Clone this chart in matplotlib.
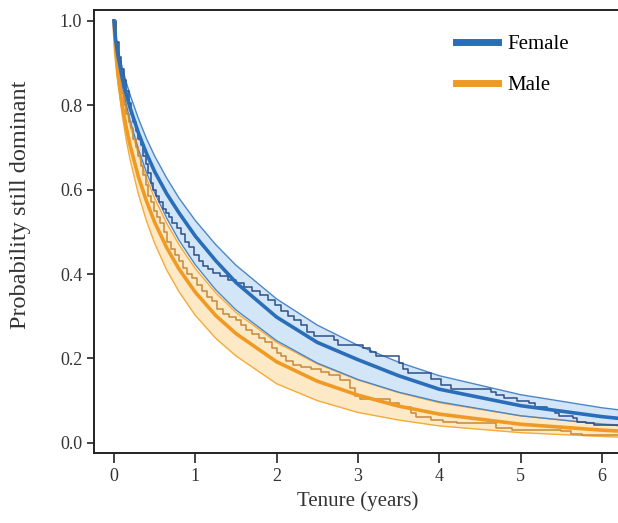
import matplotlib
matplotlib.use("Agg")
import matplotlib.pyplot as plt

plt.rcParams['font.family'] = ['Liberation Serif', 'DejaVu Serif']

# fitted survival curves
t_fit = [0, 0.02, 0.05, 0.1, 0.15, 0.2, 0.3, 0.4, 0.5, 0.65, 0.8, 1.0, 1.25,
         1.5, 2.0, 2.5, 3.0, 3.5, 4.0, 5.0, 6.0, 6.3]
female_fit = [1.0, 0.957, 0.918, 0.868, 0.828, 0.793, 0.735, 0.686, 0.643, 0.590,
              0.545, 0.490, 0.432, 0.380, 0.298, 0.238, 0.197, 0.159, 0.127,
              0.088, 0.062, 0.056]
female_hi = [1.0, 0.966, 0.934, 0.891, 0.855, 0.824, 0.769, 0.721, 0.680, 0.627,
             0.580, 0.527, 0.470, 0.421, 0.341, 0.279, 0.231, 0.191, 0.159,
             0.114, 0.083, 0.076]
female_lo = [1.0, 0.950, 0.905, 0.849, 0.803, 0.763, 0.696, 0.641, 0.593, 0.532,
             0.480, 0.422, 0.363, 0.315, 0.242, 0.189, 0.150, 0.120, 0.097,
             0.064, 0.044, 0.039]
male_fit = [1.0, 0.928, 0.871, 0.802, 0.749, 0.704, 0.631, 0.573, 0.523, 0.462,
            0.412, 0.357, 0.302, 0.259, 0.192, 0.146, 0.113, 0.087, 0.068,
            0.044, 0.030, 0.027]
male_hi = [1.0, 0.944, 0.897, 0.838, 0.791, 0.751, 0.684, 0.628, 0.580, 0.520,
           0.470, 0.413, 0.356, 0.309, 0.238, 0.187, 0.149, 0.119, 0.095,
           0.064, 0.045, 0.041]
male_lo = [1.0, 0.920, 0.855, 0.779, 0.719, 0.670, 0.590, 0.526, 0.473, 0.409,
           0.358, 0.302, 0.248, 0.206, 0.140, 0.100, 0.072, 0.054, 0.040,
           0.024, 0.015, 0.013]

# Kaplan-Meier steps
female_km_t = [0, 0.03, 0.06, 0.09, 0.12, 0.15, 0.18, 0.21, 0.24, 0.27, 0.30, 0.33,
               0.36, 0.39, 0.42, 0.45, 0.48, 0.52, 0.56, 0.60, 0.64, 0.68, 0.72,
               0.77, 0.82, 0.87, 0.92, 0.98, 1.04, 1.10, 1.16, 1.22, 1.30, 1.40,
               1.50, 1.60, 1.70, 1.80, 1.90, 1.98, 2.06, 2.14, 2.22, 2.30, 2.38,
               2.46, 2.70, 2.76, 3.06, 3.15, 3.22, 3.50, 3.56, 3.62, 3.90, 4.02,
               4.15, 4.64, 4.70, 4.80, 4.95, 5.10, 5.18, 5.32, 5.42, 5.47, 5.64,
               5.70, 5.80, 5.90, 6.3]
female_km = [1.0, 0.95, 0.915, 0.885, 0.86, 0.835, 0.805, 0.78, 0.76, 0.74, 0.72, 0.705,
             0.68, 0.66, 0.64, 0.615, 0.60, 0.585, 0.57, 0.555, 0.545, 0.535, 0.52,
             0.51, 0.495, 0.475, 0.465, 0.445, 0.43, 0.42, 0.412, 0.403, 0.395,
             0.386, 0.378, 0.37, 0.36, 0.35, 0.338, 0.326, 0.313, 0.30, 0.29,
             0.28, 0.262, 0.252, 0.244, 0.232, 0.224, 0.215, 0.205, 0.19, 0.175,
             0.165, 0.152, 0.138, 0.128, 0.12, 0.114, 0.105, 0.10, 0.095, 0.085,
             0.078, 0.07, 0.063, 0.058, 0.05, 0.046, 0.043, 0.043]
male_km_t = [0, 0.03, 0.05, 0.07, 0.09, 0.12, 0.15, 0.18, 0.21, 0.24, 0.27, 0.30,
             0.33, 0.36, 0.39, 0.42, 0.45, 0.49, 0.53, 0.57, 0.61, 0.65, 0.70,
             0.75, 0.80, 0.85, 0.90, 0.96, 1.02, 1.08, 1.14, 1.20, 1.27, 1.34,
             1.42, 1.50, 1.56, 1.62, 1.70, 1.78, 1.86, 1.94, 2.00, 2.06, 2.12,
             2.20, 2.30, 2.42, 2.55, 2.65, 2.78, 2.90, 2.96, 3.02, 3.40, 3.50,
             3.65, 3.72, 3.90, 4.05, 4.22, 4.70, 4.90, 5.50, 5.62, 5.75, 6.3]
male_km = [1.0, 0.95, 0.91, 0.87, 0.83, 0.80, 0.78, 0.76, 0.745, 0.72, 0.70, 0.68,
           0.655, 0.635, 0.61, 0.585, 0.57, 0.55, 0.535, 0.52, 0.50, 0.475, 0.46,
           0.445, 0.43, 0.415, 0.40, 0.39, 0.375, 0.36, 0.345, 0.335, 0.318,
           0.305, 0.298, 0.29, 0.28, 0.268, 0.258, 0.248, 0.238, 0.224, 0.212,
           0.205, 0.195, 0.185, 0.18, 0.174, 0.168, 0.16, 0.15, 0.13, 0.11,
           0.103, 0.095, 0.085, 0.07, 0.062, 0.055, 0.05, 0.047, 0.035, 0.03,
           0.028, 0.022, 0.018, 0.018]

x_ticks = [0, 1, 2, 3, 4, 5, 6]
y_ticks = [0.0, 0.2, 0.4, 0.6, 0.8, 1.0]

blue = '#2a6db8'
blue_edge = '#4a86c9'
blue_fill = '#d2e6f7'
navy = '#2d4f88'
orange = '#f09a24'
orange_edge = '#f5aa3a'
orange_fill = '#fde9c6'
brown = '#c5893a'

fig = plt.figure(figsize=(6.18, 5.23), dpi=100)
ax = fig.add_axes([0.152, 0.134, 0.853, 0.847])

ax.fill_between(t_fit, male_lo, male_hi, color=orange_fill, lw=0)
ax.fill_between(t_fit, female_lo, female_hi, color=blue_fill, lw=0)
ax.plot(t_fit, male_lo, color=orange_edge, lw=1.0)
ax.plot(t_fit, male_hi, color=orange_edge, lw=1.0)
ax.plot(t_fit, female_lo, color=blue_edge, lw=1.0)
ax.plot(t_fit, female_hi, color=blue_edge, lw=1.0)

ax.step(male_km_t, male_km, where='post', color=brown, lw=1.1)
ax.step(female_km_t, female_km, where='post', color=navy, lw=1.1)

ax.plot(t_fit, male_fit, color=orange, lw=2.6, label='Male')
ax.plot(t_fit, female_fit, color=blue, lw=2.6, label='Female')

ax.set_xlim(-0.246, 6.236)
ax.set_ylim(-0.024, 1.026)
ax.set_xticks(x_ticks)
ax.set_yticks(y_ticks)
ax.set_yticklabels([f'{v:.1f}' for v in y_ticks])

for s in ['left', 'bottom', 'top']:
    ax.spines[s].set_linewidth(1.4)
    ax.spines[s].set_color('#222222')
ax.spines['right'].set_visible(False)
ax.tick_params(direction='out', length=7, width=1.2, color='#222222',
               labelsize=13, labelcolor='#333333')
ax.tick_params(axis='y', length=5)

ax.set_xlabel('Tenure (years)', fontsize=15, color='#333333', labelpad=5)
ax.set_ylabel('Probability still dominant', fontsize=17.5, color='#333333')
ax.yaxis.set_label_coords(-0.12, 0.56)

h, l = ax.get_legend_handles_labels()
ax.legend(h[::-1], l[::-1], loc='upper left', bbox_to_anchor=(0.708, 0.97),
          bbox_transform=fig.transFigure, frameon=False, fontsize=15,
          handlelength=2.0, labelspacing=1.05, handletextpad=0.45)
for line in ax.get_legend().get_lines():
    line.set_linewidth(5)

fig.savefig('out.png', dpi=100)
